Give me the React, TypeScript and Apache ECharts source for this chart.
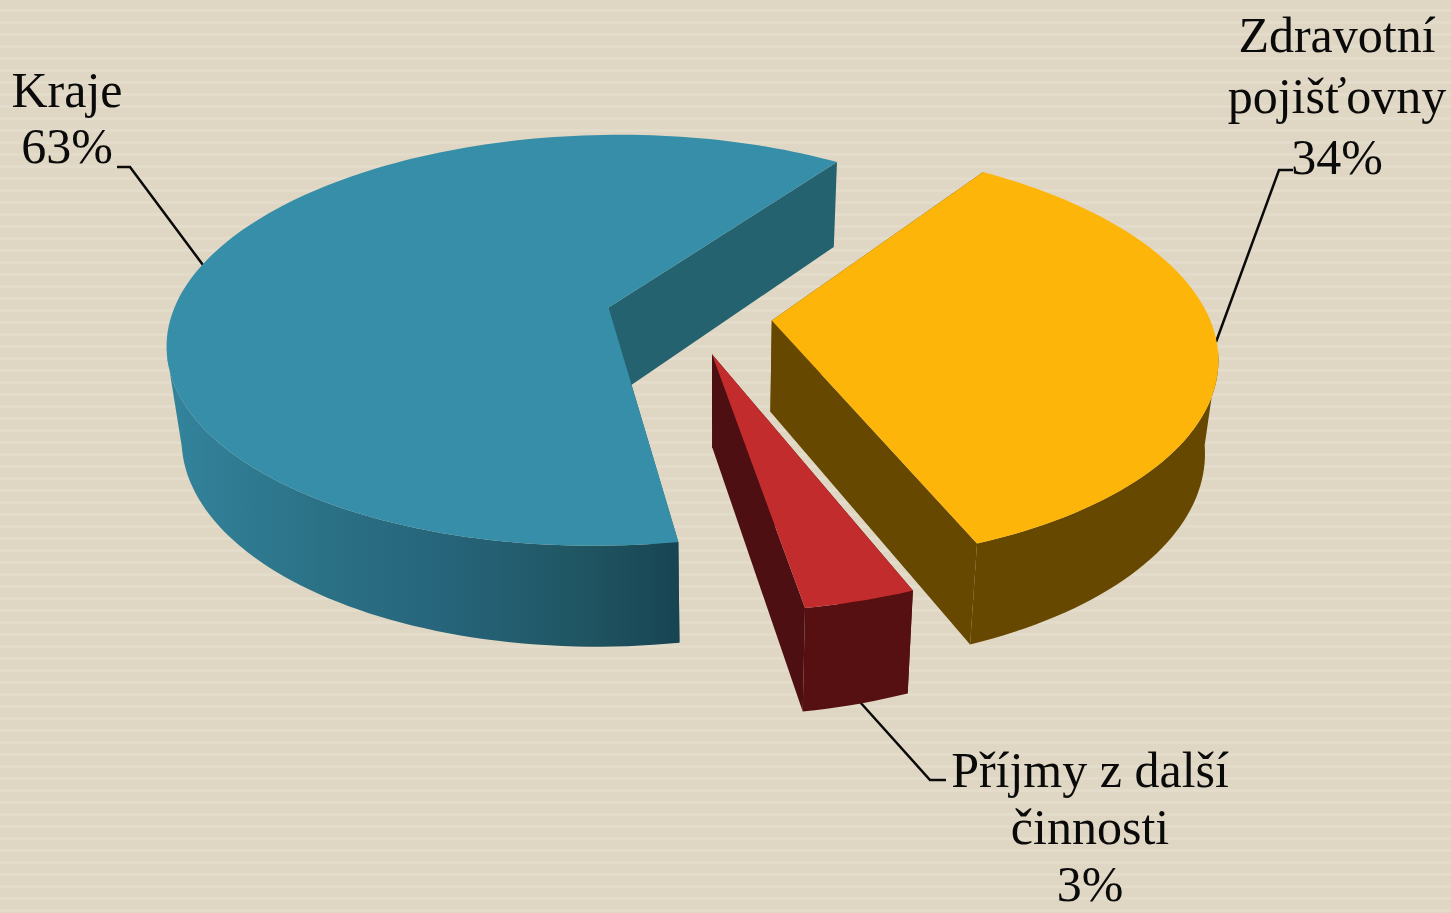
import React, { useEffect, useRef } from "react";
import * as echarts from "echarts";

const categories = ["Zdravotní pojišťovny", "Příjmy z další činnosti", "Kraje"];
const values = [34.3, 3.4, 62.3];
const labelLines = [
  ["Zdravotní", "pojišťovny", "34%"],
  ["Příjmy z další", "činnosti", "3%"],
  ["Kraje", "63%"],
];

const START_ANGLE = 34.8;
const EXPLODE = 0.19;
const CX = 689, CY = 316, RX = 437, RY = 203, PERSPECTIVE = 0.16;
const VANISH_X = 720, BOTTOM_SCALE = 0.973, DEPTH_BASE = 78, DEPTH_SLOPE = 0.042;

const topColors = ["#fdb50a", "#c22c2c", "#378ea8"];
const wallColors = ["#664800", "#4d0f11", "#25626f"];
const rimColors: any[] = [
  "#664800",
  "#561011",
  new echarts.graphic.LinearGradient(0, 0, 1, 0, [
    { offset: 0, color: "#33849d" },
    { offset: 0.3, color: "#2b7186" },
    { offset: 0.55, color: "#26647a" },
    { offset: 0.8, color: "#205663" },
    { offset: 1, color: "#184452" },
  ]),
];

const labelAnchors = [
  { x: 1337, y: [35, 96, 157] },
  { x: 1090, y: [770, 827, 884] },
  { x: 67, y: [90, 146] },
];
const leaderLines = [
  [[1293, 170], [1279, 170], [1216, 342]],
  [[860, 702], [930, 780], [946, 780]],
  [[117, 167], [130, 167], [203, 265]],
];

const project = (u: number, v: number): number[] => {
  const w = 1 - PERSPECTIVE * v;
  return [CX + (RX * u) / w, CY + (RY * v) / w];
};
const lower = (p: number[]): number[] => [
  VANISH_X + BOTTOM_SCALE * (p[0] - VANISH_X),
  p[1] + DEPTH_BASE + DEPTH_SLOPE * p[1],
];
const rad = (d: number) => (d * Math.PI) / 180;

const total = values.reduce((a, b) => a + b, 0);

const renderSlice = (params: any, api: any) => {
  const i = params.dataIndex;
  const before = values.slice(0, i).reduce((a, b) => a + b, 0);
  const a0 = START_ANGLE + (before / total) * 360;
  const a1 = a0 + (api.value(0) / total) * 360;
  const mid = rad((a0 + a1) / 2);
  const ou = EXPLODE * Math.sin(mid);
  const ov = -EXPLODE * Math.cos(mid);

  const at = (deg: number) => project(ou + Math.sin(rad(deg)), ov - Math.cos(rad(deg)));
  const apex = project(ou, ov);
  const steps = Math.ceil((a1 - a0) / 1.5);
  const arc: number[][] = [];
  const front: number[][] = [];
  for (let s = 0; s <= steps; s++) {
    const d = a0 + ((a1 - a0) * s) / steps;
    const p = at(d);
    arc.push(p);
    // the rim is visible from the disc's left and right extremes towards the viewer
    if (ov - Math.cos(rad(d)) >= PERSPECTIVE) front.push(p);
  }
  const shape = (points: number[][], fill: any) => ({
    type: "polygon",
    shape: { points },
    style: { fill, stroke: null },
    silent: true,
  });
  const wall = (edge: number[]) =>
    shape([apex, edge, lower(edge), lower(apex)], wallColors[i]);

  const children: any[] = [wall(arc[0]), wall(arc[arc.length - 1])];
  if (front.length > 1) {
    children.push(shape([...front, ...front.slice().reverse().map(lower)], rimColors[i]));
  }
  children.push(shape([apex, ...arc], topColors[i]));
  return { type: "group", children };
};

const FONT = "'Liberation Serif', serif";

export default function App() {
  const ref = useRef<HTMLDivElement>(null);
  useEffect(() => {
    document.body.style.margin = "0";
    const chart = echarts.init(ref.current!, undefined, { renderer: "svg" });
    const texts: any[] = [];
    labelLines.forEach((lines, i) => {
      lines.forEach((line, j) => {
        texts.push({
          type: "text",
          x: labelAnchors[i].x,
          y: labelAnchors[i].y[j],
          silent: true,
          style: {
            text: line,
            fill: "#0a0a0a",
            font: `50px ${FONT}`,
            textAlign: "center",
            textVerticalAlign: "middle",
          },
        });
      });
    });
    const lines = leaderLines.map((points) => ({
      type: "polyline",
      silent: true,
      shape: { points },
      style: { stroke: "#0a0a0a", lineWidth: 2.5, fill: null },
    }));
    chart.setOption({
      animation: false,
      backgroundColor: "transparent",
      series: [
        {
          type: "custom",
          coordinateSystem: "none",
          renderItem: renderSlice,
          silent: true,
          data: values.map((value, i) => ({ name: categories[i], value })),
        },
      ],
      graphic: { elements: [...lines, ...texts] },
    });
    return () => chart.dispose();
  }, []);
  return (
    <div
      style={{
        position: "absolute",
        left: 0,
        top: 0,
        width: 1451,
        height: 913,
        overflow: "hidden",
        background:
          "repeating-linear-gradient(180deg, #dfd7c3 0px, #dfd7c3 9px, #e4dccb 9px, #e4dccb 12px)",
      }}
    >
      <div ref={ref} style={{ width: 1451, height: 913 }} />
    </div>
  );
}
